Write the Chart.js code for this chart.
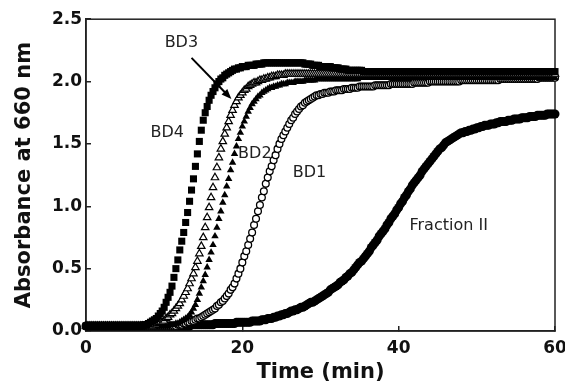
<!DOCTYPE html>
<html>
<head>
<meta charset="utf-8">
<script src="https://cdn.jsdelivr.net/npm/chart.js@4.4.1/dist/chart.umd.min.js"></script>
<style>
  html, body { margin: 0; padding: 0; background: #fff; }
  canvas { display: block; }
</style>
</head>
<body>
<canvas id="absChart" width="565" height="385"></canvas>
<script>
        // plate reader took one reading every 15 s, 0..60 min (4 readings per minute)
        const SAMPLE_STEP = 0.25;

        const bd4 = [
            0.04,0.04,0.04,0.04, 0.04,0.04,0.04,0.04, 0.04,0.04,0.04,0.04, 0.04,0.04,0.04,0.04, 0.04,0.04,0.04,0.04,
            0.04,0.04,0.04,0.04, 0.04,0.04,0.04,0.04, 0.04,0.04,0.05,0.05, 0.06,0.07,0.08,0.09, 0.10,0.12,0.14,0.16,
            0.19,0.23,0.27,0.31, 0.36,0.43,0.50,0.57, 0.65,0.72,0.79,0.87, 0.95,1.04,1.13,1.22, 1.32,1.42,1.52,1.61,
            1.69,1.75,1.80,1.85, 1.89,1.92,1.95,1.98, 2.00,2.02,2.03,2.05, 2.06,2.07,2.08,2.09, 2.10,2.10,2.11,2.11,
            2.12,2.12,2.12,2.13, 2.13,2.13,2.13,2.14, 2.14,2.14,2.14,2.15, 2.15,2.15,2.15,2.15, 2.15,2.15,2.15,2.15,
            2.15,2.15,2.15,2.15, 2.15,2.15,2.15,2.15, 2.15,2.15,2.15,2.15, 2.14,2.14,2.14,2.14, 2.13,2.13,2.13,2.13,
            2.12,2.12,2.12,2.12, 2.12,2.12,2.11,2.11, 2.11,2.11,2.10,2.10, 2.10,2.10,2.09,2.09, 2.09,2.09,2.09,2.09,
            2.09,2.09,2.08,2.08, 2.08,2.08,2.08,2.08, 2.08,2.08,2.08,2.08, 2.08,2.08,2.08,2.08, 2.08,2.08,2.08,2.08,
            2.08,2.08,2.08,2.08, 2.08,2.08,2.08,2.08, 2.08,2.08,2.08,2.08, 2.08,2.08,2.08,2.08, 2.08,2.08,2.08,2.08,
            2.08,2.08,2.08,2.08, 2.08,2.08,2.08,2.08, 2.08,2.08,2.08,2.08, 2.08,2.08,2.08,2.08, 2.08,2.08,2.08,2.08,
            2.08,2.08,2.08,2.08, 2.08,2.08,2.08,2.08, 2.08,2.08,2.08,2.08, 2.08,2.08,2.08,2.08, 2.08,2.08,2.08,2.08,
            2.08,2.08,2.08,2.08, 2.08,2.08,2.08,2.08, 2.08,2.08,2.08,2.08, 2.08,2.08,2.08,2.08, 2.08,2.08,2.08,2.08,
            2.08
        ];

        const bd3 = [
            0.04,0.04,0.04,0.04, 0.04,0.04,0.04,0.04, 0.04,0.04,0.04,0.04, 0.04,0.04,0.04,0.04, 0.04,0.04,0.04,0.04,
            0.04,0.04,0.04,0.04, 0.04,0.04,0.04,0.04, 0.04,0.04,0.04,0.04, 0.04,0.04,0.04,0.05, 0.05,0.06,0.07,0.07,
            0.08,0.10,0.11,0.13, 0.14,0.16,0.18,0.20, 0.22,0.25,0.28,0.31, 0.34,0.38,0.42,0.46, 0.51,0.56,0.62,0.68,
            0.75,0.83,0.91,0.99, 1.07,1.15,1.23,1.31, 1.39,1.46,1.52,1.58, 1.63,1.68,1.73,1.77, 1.81,1.84,1.87,1.89,
            1.91,1.93,1.94,1.96, 1.97,1.98,1.99,1.99, 2.00,2.01,2.01,2.02, 2.02,2.03,2.03,2.04, 2.04,2.04,2.05,2.05,
            2.05,2.05,2.06,2.06, 2.06,2.06,2.06,2.06, 2.06,2.06,2.06,2.06, 2.06,2.06,2.06,2.06, 2.06,2.06,2.06,2.06,
            2.06,2.06,2.06,2.06, 2.06,2.06,2.06,2.06, 2.06,2.06,2.06,2.06, 2.06,2.06,2.06,2.06, 2.06,2.06,2.06,2.06,
            2.06,2.06,2.06,2.06, 2.06,2.06,2.06,2.06, 2.06,2.06,2.06,2.06, 2.06,2.06,2.06,2.06, 2.06,2.06,2.06,2.06,
            2.06,2.06,2.06,2.06, 2.06,2.06,2.06,2.06, 2.06,2.06,2.06,2.06, 2.06,2.06,2.06,2.06, 2.06,2.06,2.06,2.06,
            2.06,2.06,2.06,2.06, 2.06,2.06,2.06,2.06, 2.06,2.06,2.06,2.06, 2.06,2.06,2.06,2.06, 2.06,2.06,2.06,2.06,
            2.06,2.06,2.06,2.06, 2.06,2.06,2.06,2.06, 2.06,2.06,2.06,2.06, 2.06,2.06,2.06,2.06, 2.06,2.06,2.06,2.06,
            2.06,2.06,2.06,2.06, 2.06,2.06,2.06,2.06, 2.06,2.06,2.06,2.06, 2.06,2.06,2.06,2.06, 2.06,2.06,2.06,2.06,
            2.06
        ];

        const bd2 = [
            0.04,0.04,0.04,0.04, 0.04,0.04,0.04,0.04, 0.04,0.04,0.04,0.04, 0.04,0.04,0.04,0.04, 0.04,0.04,0.04,0.04,
            0.04,0.04,0.04,0.04, 0.04,0.04,0.04,0.04, 0.04,0.04,0.04,0.04, 0.04,0.04,0.04,0.04, 0.04,0.04,0.04,0.04,
            0.04,0.04,0.04,0.05, 0.05,0.05,0.06,0.06, 0.07,0.08,0.09,0.10, 0.11,0.13,0.15,0.18, 0.21,0.25,0.30,0.35,
            0.40,0.45,0.51,0.57, 0.63,0.69,0.76,0.83, 0.90,0.96,1.03,1.09, 1.16,1.22,1.29,1.35, 1.42,1.48,1.54,1.59,
            1.64,1.68,1.72,1.76, 1.79,1.82,1.84,1.86, 1.88,1.89,1.91,1.92, 1.93,1.94,1.95,1.95, 1.96,1.96,1.97,1.97,
            1.98,1.98,1.98,1.99, 1.99,1.99,1.99,2.00, 2.00,2.00,2.00,2.00, 2.01,2.01,2.01,2.01, 2.01,2.01,2.02,2.02,
            2.02,2.02,2.02,2.02, 2.02,2.02,2.02,2.02, 2.02,2.02,2.02,2.02, 2.02,2.02,2.02,2.02, 2.02,2.02,2.02,2.02,
            2.03,2.03,2.03,2.03, 2.03,2.03,2.03,2.03, 2.03,2.03,2.03,2.03, 2.03,2.03,2.03,2.03, 2.03,2.03,2.03,2.03,
            2.03,2.03,2.03,2.03, 2.03,2.03,2.03,2.03, 2.03,2.03,2.03,2.03, 2.03,2.03,2.03,2.03, 2.03,2.03,2.03,2.03,
            2.03,2.03,2.03,2.03, 2.03,2.03,2.03,2.03, 2.03,2.03,2.03,2.03, 2.03,2.03,2.03,2.03, 2.03,2.03,2.03,2.03,
            2.03,2.03,2.03,2.03, 2.03,2.03,2.03,2.03, 2.03,2.03,2.03,2.03, 2.03,2.03,2.03,2.03, 2.03,2.03,2.03,2.03,
            2.03,2.03,2.03,2.03, 2.03,2.03,2.03,2.03, 2.03,2.03,2.03,2.03, 2.03,2.03,2.03,2.03, 2.03,2.03,2.03,2.03,
            2.03
        ];

        const bd1 = [
            0.04,0.04,0.04,0.04, 0.04,0.04,0.04,0.04, 0.04,0.04,0.04,0.04, 0.04,0.04,0.04,0.04, 0.04,0.04,0.04,0.04,
            0.04,0.04,0.04,0.04, 0.04,0.04,0.04,0.04, 0.04,0.04,0.04,0.04, 0.04,0.04,0.04,0.04, 0.04,0.04,0.04,0.04,
            0.04,0.04,0.04,0.04, 0.04,0.04,0.04,0.05, 0.05,0.05,0.06,0.06, 0.07,0.07,0.08,0.08, 0.09,0.10,0.10,0.11,
            0.12,0.13,0.14,0.15, 0.16,0.17,0.18,0.20, 0.21,0.23,0.24,0.26, 0.28,0.30,0.33,0.35, 0.38,0.42,0.46,0.50,
            0.55,0.60,0.64,0.69, 0.74,0.79,0.85,0.90, 0.96,1.01,1.07,1.12, 1.18,1.23,1.28,1.32, 1.37,1.41,1.46,1.50,
            1.54,1.57,1.60,1.63, 1.66,1.69,1.71,1.74, 1.76,1.78,1.80,1.81, 1.83,1.84,1.85,1.86, 1.87,1.88,1.89,1.89,
            1.90,1.90,1.91,1.91, 1.91,1.92,1.92,1.92, 1.93,1.93,1.93,1.93, 1.94,1.94,1.94,1.94, 1.95,1.95,1.95,1.95,
            1.96,1.96,1.96,1.96, 1.96,1.96,1.96,1.96, 1.97,1.97,1.97,1.97, 1.97,1.97,1.97,1.97, 1.98,1.98,1.98,1.98,
            1.98,1.98,1.98,1.98, 1.98,1.98,1.98,1.98, 1.99,1.99,1.99,1.99, 1.99,1.99,1.99,1.99, 2.00,2.00,2.00,2.00,
            2.00,2.00,2.00,2.00, 2.00,2.00,2.00,2.00, 2.00,2.00,2.00,2.00, 2.01,2.01,2.01,2.01, 2.01,2.01,2.01,2.01,
            2.01,2.01,2.01,2.01, 2.01,2.01,2.01,2.01, 2.01,2.01,2.01,2.01, 2.02,2.02,2.02,2.02, 2.02,2.02,2.02,2.02,
            2.02,2.02,2.02,2.02, 2.02,2.02,2.02,2.02, 2.02,2.02,2.02,2.02, 2.03,2.03,2.03,2.03, 2.03,2.03,2.03,2.03,
            2.03
        ];

        const fraction2 = [
            0.04,0.04,0.04,0.04, 0.04,0.04,0.04,0.04, 0.04,0.04,0.04,0.04, 0.04,0.04,0.04,0.04, 0.04,0.04,0.04,0.04,
            0.04,0.04,0.04,0.04, 0.04,0.04,0.04,0.04, 0.04,0.04,0.04,0.04, 0.04,0.04,0.04,0.04, 0.04,0.04,0.04,0.04,
            0.04,0.04,0.04,0.04, 0.04,0.04,0.04,0.04, 0.04,0.04,0.04,0.04, 0.04,0.04,0.05,0.05, 0.05,0.05,0.05,0.05,
            0.05,0.05,0.05,0.05, 0.05,0.05,0.06,0.06, 0.06,0.06,0.06,0.06, 0.06,0.06,0.06,0.06, 0.06,0.07,0.07,0.07,
            0.07,0.07,0.07,0.07, 0.07,0.08,0.08,0.08, 0.08,0.08,0.09,0.09, 0.09,0.10,0.10,0.10, 0.11,0.11,0.12,0.12,
            0.13,0.13,0.14,0.14, 0.15,0.16,0.16,0.17, 0.17,0.18,0.19,0.19, 0.20,0.21,0.22,0.23, 0.23,0.24,0.25,0.26,
            0.27,0.28,0.29,0.30, 0.31,0.33,0.34,0.35, 0.36,0.37,0.39,0.40, 0.41,0.43,0.44,0.46, 0.47,0.49,0.51,0.53,
            0.55,0.56,0.58,0.60, 0.62,0.64,0.67,0.69, 0.71,0.73,0.76,0.78, 0.80,0.82,0.85,0.87, 0.90,0.92,0.94,0.97,
            0.99,1.02,1.04,1.07, 1.09,1.12,1.14,1.17, 1.19,1.21,1.23,1.25, 1.28,1.30,1.32,1.34, 1.36,1.38,1.40,1.42,
            1.44,1.46,1.47,1.49, 1.51,1.52,1.53,1.54, 1.55,1.56,1.57,1.58, 1.59,1.59,1.60,1.60, 1.61,1.61,1.62,1.62,
            1.63,1.63,1.64,1.64, 1.65,1.65,1.65,1.66, 1.66,1.66,1.67,1.67, 1.68,1.68,1.68,1.68, 1.69,1.69,1.69,1.70,
            1.70,1.70,1.70,1.71, 1.71,1.71,1.71,1.72, 1.72,1.72,1.72,1.73, 1.73,1.73,1.73,1.73, 1.74,1.74,1.74,1.74,
            1.74
        ];

        const xTicks = [0, 20, 40, 60];
        const yTicks = [0, 0.5, 1.0, 1.5, 2.0, 2.5];

        // curve names written inside the plot, in data units
        const curveLabels = [
            { text: 'BD3', t: 12.2, v: 2.31 },
            { text: 'BD4', t: 10.4, v: 1.59 },
            { text: 'BD2', t: 21.6, v: 1.42 },
            { text: 'BD1', t: 28.6, v: 1.27 },
            { text: 'Fraction II', t: 46.4, v: 0.84 }
        ];
        const bd3Arrow = { from: [13.5, 2.19], to: [18.6, 1.86] };

        const toPoints = values => values.map((y, i) => ({ x: i * SAMPLE_STEP, y: y }));

        const FONT = "'DejaVu Sans', sans-serif";
        const tickFont = { family: FONT, size: 17, weight: 'bold' };
        const titleFont = { family: FONT, size: 21, weight: 'bold' };
        const INK = '#111';

        const framePlugin = {
            id: 'frame',
            beforeDatasetsDraw(chart) {
                const { ctx, chartArea: a } = chart;
                ctx.save();
                ctx.strokeStyle = '#222';
                ctx.lineWidth = 1.5;
                ctx.strokeRect(a.left, a.top, a.right - a.left, a.bottom - a.top);
                ctx.restore();
            }
        };

        const labelPlugin = {
            id: 'curveLabels',
            afterDatasetsDraw(chart) {
                const { ctx } = chart;
                const sx = chart.scales.x, sy = chart.scales.y;
                ctx.save();
                ctx.font = '16px ' + FONT;
                ctx.fillStyle = '#222';
                ctx.textAlign = 'center';
                ctx.textBaseline = 'middle';
                curveLabels.forEach(l => {
                    ctx.fillText(l.text, sx.getPixelForValue(l.t), sy.getPixelForValue(l.v));
                });

                const x1 = sx.getPixelForValue(bd3Arrow.from[0]);
                const y1 = sy.getPixelForValue(bd3Arrow.from[1]);
                const x2 = sx.getPixelForValue(bd3Arrow.to[0]);
                const y2 = sy.getPixelForValue(bd3Arrow.to[1]);
                const ang = Math.atan2(y2 - y1, x2 - x1);
                const head = 10;
                ctx.strokeStyle = '#000';
                ctx.fillStyle = '#000';
                ctx.lineWidth = 2;
                ctx.beginPath();
                ctx.moveTo(x1, y1);
                ctx.lineTo(x2 - Math.cos(ang) * head * 0.8, y2 - Math.sin(ang) * head * 0.8);
                ctx.stroke();
                ctx.beginPath();
                ctx.moveTo(x2, y2);
                ctx.lineTo(x2 - head * Math.cos(ang) + 4 * Math.sin(ang), y2 - head * Math.sin(ang) - 4 * Math.cos(ang));
                ctx.lineTo(x2 - head * Math.cos(ang) - 4 * Math.sin(ang), y2 - head * Math.sin(ang) + 4 * Math.cos(ang));
                ctx.closePath();
                ctx.fill();
                ctx.restore();
            }
        };

        const ctx = document.getElementById('absChart').getContext('2d');
        new Chart(ctx, {
            type: 'scatter',
            data: {
                datasets: [
                    {
                        label: 'BD4',
                        data: toPoints(bd4),
                        pointStyle: 'rect',
                        pointRadius: 5,
                        backgroundColor: '#000',
                        borderWidth: 0
                    },
                    {
                        label: 'BD3',
                        data: toPoints(bd3),
                        pointStyle: 'triangle',
                        pointRadius: 4.3,
                        backgroundColor: '#fff',
                        borderColor: '#000',
                        borderWidth: 1.2
                    },
                    {
                        label: 'BD2',
                        data: toPoints(bd2),
                        pointStyle: 'triangle',
                        pointRadius: 4.3,
                        backgroundColor: '#000',
                        borderWidth: 0
                    },
                    {
                        label: 'BD1',
                        data: toPoints(bd1),
                        pointStyle: 'circle',
                        pointRadius: 3.4,
                        backgroundColor: '#fff',
                        borderColor: '#000',
                        borderWidth: 1.3
                    },
                    {
                        label: 'Fraction II',
                        data: toPoints(fraction2),
                        pointStyle: 'circle',
                        pointRadius: 4.5,
                        backgroundColor: '#000',
                        borderWidth: 0
                    }
                ].map(d => ({ ...d, clip: false, pointHoverRadius: d.pointRadius }))
            },
            options: {
                responsive: false,
                animation: false,
                events: [],
                layout: { padding: { left: 0, right: 10, top: 19, bottom: 0 } },
                scales: {
                    x: {
                        type: 'linear',
                        min: 0,
                        max: 60,
                        afterBuildTicks: s => { s.ticks = xTicks.map(v => ({ value: v })); },
                        ticks: { font: tickFont, color: INK, padding: 12 },
                        grid: { drawOnChartArea: false, tickLength: -5, color: '#222', lineWidth: 1.5 },
                        border: { color: '#222', width: 1.5 },
                        title: { display: true, text: 'Time (min)', font: titleFont, color: INK, padding: { top: 0, bottom: 0 } },
                        afterFit: s => { s.height = 54; s.paddingLeft = 0; s.paddingRight = 0; }
                    },
                    y: {
                        min: 0,
                        max: 2.5,
                        afterBuildTicks: s => { s.ticks = yTicks.map(v => ({ value: v })); },
                        ticks: { font: tickFont, color: INK, padding: 9, callback: v => v.toFixed(1) },
                        grid: { drawOnChartArea: false, tickLength: -5, color: '#222', lineWidth: 1.5 },
                        border: { color: '#222', width: 1.5 },
                        title: { display: true, text: 'Absorbance at 660 nm', font: titleFont, color: INK, padding: { top: 12, bottom: 0 } },
                        afterFit: s => { s.width = 86; }
                    }
                },
                plugins: {
                    legend: { display: false },
                    tooltip: { enabled: false }
                }
            },
            plugins: [framePlugin, labelPlugin]
        });
</script>
</body>
</html>
